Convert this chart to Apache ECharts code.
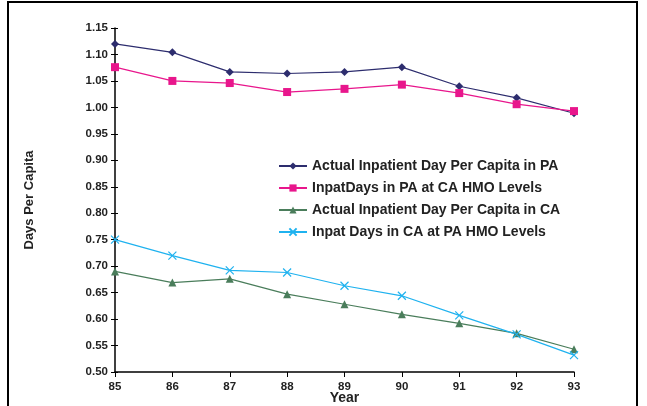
<!DOCTYPE html>
<html>
<head>
<meta charset="utf-8">
<script src="https://cdn.jsdelivr.net/npm/echarts@6/dist/echarts.min.js"></script>
<style>
  html, body { margin: 0; padding: 0; background: #fff; }
  #chart { width: 647px; height: 406px; }
</style>
</head>
<body>
<div id="chart"></div>
<script>
var years = ['85', '86', '87', '88', '89', '90', '91', '92', '93'];
var actualPA = [1.120, 1.104, 1.067, 1.064, 1.067, 1.076, 1.040, 1.018, 0.989];
var paAtCA = [1.076, 1.050, 1.046, 1.029, 1.035, 1.043, 1.027, 1.006, 0.993];
var actualCA = [0.690, 0.669, 0.676, 0.647, 0.628, 0.609, 0.592, 0.573, 0.543];
var caAtPA = [0.750, 0.720, 0.692, 0.688, 0.663, 0.644, 0.607, 0.571, 0.532];
var seriesNames = [
  'Actual Inpatient Day Per Capita in PA',
  'InpatDays in PA at CA HMO Levels',
  'Actual Inpatient Day Per Capita in CA',
  'Inpat Days in CA at PA HMO Levels'
];

var font = '"Liberation Sans", Arial, sans-serif';
var myChart = echarts.init(document.getElementById('chart'));

function lineSeries(name, data, color, symbol, size, extra) {
  var s = {
    name: name,
    type: 'line',
    data: data,
    symbol: symbol,
    symbolSize: size,
    showSymbol: true,
    lineStyle: {color: color, width: 1.2},
    itemStyle: {color: color},
    emphasis: {disabled: true},
    z: 3
  };
  if (extra) s.itemStyle = extra;
  return s;
}

myChart.setOption({
  animation: false,
  backgroundColor: '#fff',
  grid: {left: 115, right: 73, top: 28, bottom: 34, containLabel: false, outerBoundsMode: 'none'},
  legend: {
    orient: 'vertical',
    left: 273,
    top: 154,
    itemGap: 8,
    itemWidth: 28,
    itemHeight: 9,
    textStyle: {fontFamily: font, fontWeight: 'bold', fontSize: 14, color: '#222'},
    data: seriesNames
  },
  xAxis: {
    type: 'category',
    data: years,
    boundaryGap: false,
    name: 'Year',
    nameLocation: 'middle',
    nameGap: 19,
    nameMoveOverlap: false,
    nameTextStyle: {fontFamily: font, fontWeight: 'bold', fontSize: 14, color: '#222'},
    axisLine: {lineStyle: {color: '#000', width: 1.5}},
    axisTick: {show: true, length: 5, lineStyle: {color: '#000'}},
    axisLabel: {fontFamily: font, fontWeight: 'bold', fontSize: 11.5, color: '#222', margin: 9},
    splitLine: {show: false}
  },
  yAxis: [{
    type: 'value',
    min: 0.5,
    max: 1.15,
    interval: 0.05,
    name: 'Days Per Capita',
    nameLocation: 'middle',
    nameGap: 79,
    nameRotate: 90,
    nameTextStyle: {fontFamily: font, fontWeight: 'bold', fontSize: 13, color: '#222'},
    axisLine: {show: true, lineStyle: {color: '#000', width: 1.5}},
    axisTick: {show: true, length: 4, lineStyle: {color: '#000'}},
    axisLabel: {
      fontFamily: font, fontWeight: 'bold', fontSize: 11.5, color: '#222', margin: 7,
      formatter: function (v) { return v.toFixed(2); }
    },
    splitLine: {show: false}
  }, {
    type: 'value',
    position: 'left',
    min: 0.5,
    max: 1.15,
    interval: 0.05,
    axisLine: {show: false},
    axisTick: {show: true, inside: true, length: 3, lineStyle: {color: '#000'}},
    axisLabel: {show: false},
    splitLine: {show: false}
  }],
  series: [
    lineSeries(seriesNames[0], actualPA, '#2d2d6e', 'diamond', 8),
    lineSeries(seriesNames[1], paAtCA, '#e8168c', 'rect', 8),
    lineSeries(seriesNames[2], actualCA, '#4a7d5b', 'triangle', 8),
    lineSeries(seriesNames[3], caAtPA, '#1fb2ef', 'path://M0,0L10,10M10,0L0,10', 8,
      {color: '#1fb2ef', borderColor: '#1fb2ef', borderWidth: 1.2})
  ],
  graphic: [
    {type: 'line', shape: {x1: 8, y1: 2, x2: 8, y2: 406}, style: {stroke: '#000', lineWidth: 2}},
    {type: 'line', shape: {x1: 7, y1: 2, x2: 638, y2: 2}, style: {stroke: '#000', lineWidth: 2}},
    {type: 'line', shape: {x1: 637, y1: 2, x2: 637, y2: 406}, style: {stroke: '#000', lineWidth: 2}}
  ]
});
</script>
</body>
</html>
